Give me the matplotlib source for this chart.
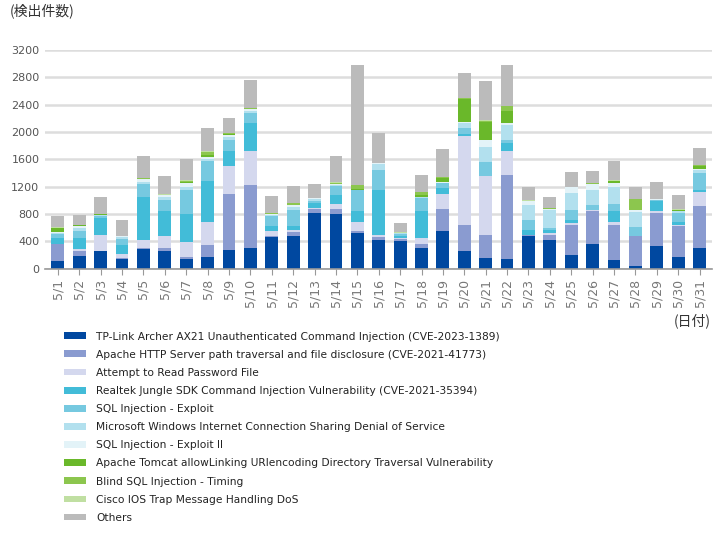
import matplotlib
matplotlib.use("Agg")
import matplotlib.pyplot as plt
import numpy as np

plt.rcParams['font.family'] = ['DejaVu Sans', 'Noto Sans CJK JP']

days = ["5/%d" % d for d in range(1, 32)]

series_names = [
    "TP-Link Archer AX21 Unauthenticated Command Injection (CVE-2023-1389)",
    "Apache HTTP Server path traversal and file disclosure (CVE-2021-41773)",
    "Attempt to Read Password File",
    "Realtek Jungle SDK Command Injection Vulnerability (CVE-2021-35394)",
    "SQL Injection - Exploit",
    "Microsoft Windows Internet Connection Sharing Denial of Service",
    "SQL Injection - Exploit II",
    "Apache Tomcat allowLinking URIencoding Directory Traversal Vulnerability",
    "Blind SQL Injection - Timing",
    "Cisco IOS Trap Message Handling DoS",
    "Others",
]

colors = ["#0048A0", "#8A9BD0", "#D4D8EE", "#42BCD8", "#76C9E0",
          "#B2E0EE", "#E3F3F8", "#6AB82A", "#8CC64E", "#C0DFA2", "#BBBBBB"]

tplink   = [121, 194, 257, 146, 291, 267, 145, 175, 281, 305, 461, 475, 815, 800, 524, 427,
            412, 310, 558, 257, 160, 146, 475, 427, 209, 369, 136, 39, 340, 179, 306]
apache   = [248, 73, 10, 14, 15, 43, 30, 179, 810, 922, 14, 59, 58, 73, 24, 34,
            29, 59, 315, 388, 340, 1227, 15, 73, 436, 470, 499, 436, 475, 442, 606]
password = [0, 29, 233, 58, 121, 165, 213, 325, 412, 495, 83, 38, 15, 78, 131, 39,
            15, 82, 223, 1295, 858, 349, 10, 24, 24, 15, 44, 10, 24, 24, 218]
realtek  = [82, 155, 242, 136, 630, 364, 420, 606, 215, 412, 63, 58, 72, 131, 170, 654,
            29, 388, 82, 30, 0, 121, 72, 39, 49, 0, 160, 0, 155, 39, 24]
sqli     = [63, 107, 34, 83, 180, 161, 346, 291, 170, 146, 145, 224, 34, 131, 296, 291,
            24, 194, 73, 85, 209, 39, 146, 34, 145, 82, 112, 121, 10, 131, 243]
mswin    = [10, 39, 14, 29, 29, 57, 49, 35, 40, 29, 25, 43, 24, 19, 10, 88,
            10, 19, 10, 80, 218, 218, 218, 266, 243, 218, 252, 218, 5, 24, 48]
sqli2    = [10, 24, 0, 10, 44, 20, 47, 30, 30, 24, 14, 29, 10, 10, 0, 10,
            5, 5, 10, 10, 97, 24, 49, 15, 87, 88, 58, 30, 5, 10, 15]
tomcat   = [58, 14, 15, 0, 9, 5, 25, 20, 10, 8, 0, 0, 0, 0, 5, 0,
            5, 15, 50, 340, 267, 180, 5, 0, 0, 0, 29, 0, 0, 10, 43]
blind    = [5, 0, 0, 9, 5, 0, 15, 50, 15, 6, 5, 34, 5, 15, 67, 0,
            0, 58, 20, 10, 14, 77, 5, 5, 0, 5, 0, 165, 5, 5, 7]
cisco    = [9, 0, 0, 0, 0, 5, 5, 5, 5, 5, 5, 0, 5, 5, 0, 5,
            5, 0, 5, 5, 10, 0, 5, 5, 5, 5, 5, 0, 5, 5, 0]
others   = [160, 155, 238, 233, 326, 273, 305, 344, 222, 403, 252, 252, 199, 388, 1746, 441,
            130, 242, 405, 360, 567, 592, 193, 155, 213, 179, 281, 174, 252, 208, 260]

data = [tplink, apache, password, realtek, sqli, mswin, sqli2, tomcat, blind, cisco, others]

fig = plt.figure(figsize=(7.2, 5.41), dpi=100)
ax = fig.add_axes([0.0625, 0.503, 0.927, 0.405])

x = np.arange(len(days))
bottom = np.zeros(len(days))
handles = []
for vals, c, name in zip(data, colors, series_names):
    b = ax.bar(x, vals, 0.6, bottom=bottom, color=c, label=name, zorder=3)
    handles.append(b)
    bottom += np.array(vals)

ax.set_ylim(0, 3200)
ax.set_xlim(-0.6, len(days) - 0.4)
ax.set_yticks(range(0, 3201, 400))
ax.set_xticks(x)
ax.set_xticklabels(days, rotation=90)
ax.tick_params(axis='y', length=0, labelsize=8, labelcolor="#555555", pad=4)
ax.tick_params(axis='x', length=4, color="#999999", labelsize=9, labelcolor="#777777", pad=3)
ax.grid(axis='y', color="#DDDDDD", linewidth=1.8, zorder=0)
for s in ['top', 'right', 'left']:
    ax.spines[s].set_visible(False)
ax.spines['bottom'].set_color("#999999")
ax.spines['bottom'].set_linewidth(1.2)
ax.spines['bottom'].set_zorder(4)

fig.text(0.013, 0.98, "(検出件数)", fontsize=10, color="#333333",
         family=['Noto Sans CJK JP', 'DejaVu Sans'], va='center')
fig.text(0.987, 0.408, "(日付)", fontsize=10, color="#333333",
         family=['Noto Sans CJK JP', 'DejaVu Sans'], va='center', ha='right')

fig.legend(handles=handles, loc='upper left', bbox_to_anchor=(0.075, 0.405),
           frameon=False, fontsize=7.7, handlelength=2.05, handleheight=0.6,
           handletextpad=1.0, labelspacing=0.76, labelcolor="#222222")

fig.savefig("out.png", dpi=100)
